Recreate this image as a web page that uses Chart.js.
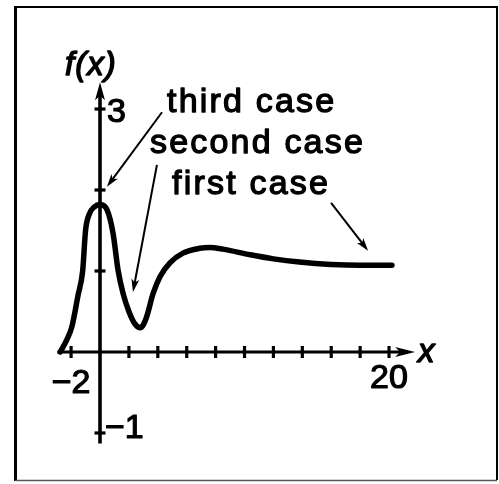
<!DOCTYPE html>
<html>
<head>
<meta charset="utf-8">
<script src="https://cdn.jsdelivr.net/npm/chart.js@4.4.1/dist/chart.umd.min.js"></script>
<style>
  html, body { margin: 0; padding: 0; background: #fff; }
  #wrap { position: relative; width: 499px; height: 484px; }
  canvas { display: block; }
</style>
</head>
<body>
<div id="wrap"><canvas id="c" width="499" height="484"></canvas></div>
<script>
// f(x) sample points
const curveX = [-2.75, -2.3, -1.95, -1.52, -1.2, -1.0, -0.75, -0.4, 0, 0.5, 0.9, 1.25, 1.6, 2.0, 2.4, 2.8, 3.2, 3.67, 4.15, 4.84, 5.74, 6.9, 7.6, 8.5, 10.4, 12, 13.8, 16, 18, 20.2];
const curveY = [0.0, 0.15, 0.31, 0.70, 1.0, 1.5, 1.70, 1.79, 1.82, 1.75, 1.47, 1.01, 0.72, 0.50, 0.35, 0.30, 0.42, 0.72, 0.93, 1.10, 1.22, 1.28, 1.29, 1.27, 1.20, 1.15, 1.11, 1.08, 1.07, 1.07];

// axis tick positions and the labelled ticks
const xTicks = [-2, 0, 2, 4, 6, 8, 10, 12, 14, 16, 18, 20];
const yTicks = [-1, 1, 2, 3];
const xLabelValues = [-2, 20];
const xLabelText = ['\u22122', '20'];
const yLabelValues = [3, -1];
const yLabelText = ['3', '\u22121'];

// case annotations: label, arrow start, arrow tip (data units)
const caseNames = ['third case', 'second case', 'first case'];
const caseArrowFrom = [[4.29, 2.96], [3.94, 2.31], [15.99, 1.84]];
const caseArrowTo = [[0.48, 2.04], [2.28, 0.74], [18.55, 1.25]];

// axis extents
const X_MIN = -6.92, X_MAX = 27.61;
const Y_MIN = -1.63, Y_MAX = 4.346;
const AXIS_X_FROM = -2.95, AXIS_X_TO = 21.8;
const AXIS_Y_FROM = -1.13, AXIS_Y_TO = 3.33;

const TEXT_FONT = '34px "Liberation Sans", Arial, sans-serif';
const ITALIC_FONT = 'italic 33px "Liberation Sans", Arial, sans-serif';

function arrowHead(ctx, tx, ty, fx, fy, len, half) {
  const a = Math.atan2(ty - fy, tx - fx);
  const c = Math.cos(a), s = Math.sin(a);
  const bx = tx - c * len, by = ty - s * len;
  ctx.beginPath();
  ctx.moveTo(tx, ty);
  ctx.lineTo(bx - s * half, by + c * half);
  ctx.lineTo(bx + c * len * 0.25, by + s * len * 0.25);
  ctx.lineTo(bx + s * half, by - c * half);
  ctx.closePath();
  ctx.fill();
}

// heavy print-style text: fill plus a thin outline
function heavyText(ctx, str, x, y, weight) {
  ctx.lineWidth = weight;
  ctx.lineJoin = 'round';
  ctx.strokeText(str, x, y);
  ctx.fillText(str, x, y);
}

const sketchAxes = {
  id: 'sketchAxes',
  beforeDatasetsDraw(chart) {
    const ctx = chart.ctx;
    const xs = chart.scales.x, ys = chart.scales.y;
    const px = v => xs.getPixelForValue(v);
    const py = v => ys.getPixelForValue(v);
    ctx.save();
    ctx.fillStyle = '#000';
    ctx.strokeStyle = '#000';

    // frame
    ctx.lineWidth = 3;
    ctx.beginPath(); ctx.moveTo(15.5, 6); ctx.lineTo(15.5, 481); ctx.stroke();
    ctx.lineWidth = 2;
    ctx.beginPath(); ctx.moveTo(14, 7); ctx.lineTo(497, 7); ctx.lineTo(497, 480); ctx.stroke();
    ctx.lineWidth = 1.5; ctx.strokeStyle = '#555';
    ctx.beginPath(); ctx.moveTo(15, 480.5); ctx.lineTo(497, 480.5); ctx.stroke();
    ctx.strokeStyle = '#000';

    const x0 = px(0), y0 = py(0);

    // x axis
    ctx.lineWidth = 3.2;
    ctx.beginPath(); ctx.moveTo(px(AXIS_X_FROM), y0); ctx.lineTo(px(AXIS_X_TO) - 8, y0); ctx.stroke();
    arrowHead(ctx, px(AXIS_X_TO), y0, x0, y0, 20, 5);
    // y axis
    ctx.lineWidth = 3.6;
    ctx.beginPath(); ctx.moveTo(x0, py(AXIS_Y_FROM)); ctx.lineTo(x0, py(AXIS_Y_TO) + 8); ctx.stroke();
    arrowHead(ctx, x0, py(AXIS_Y_TO), x0, y0, 18, 5);

    // tick marks
    ctx.lineWidth = 3.2;
    xTicks.forEach(v => {
      if (v === 0) return;
      const x = px(v);
      ctx.beginPath(); ctx.moveTo(x, y0 - 6); ctx.lineTo(x, y0 + 6); ctx.stroke();
    });
    yTicks.forEach(v => {
      const y = py(v);
      ctx.beginPath(); ctx.moveTo(x0 - 5.5, y); ctx.lineTo(x0 + 5.5, y); ctx.stroke();
    });

    // tick labels
    ctx.font = TEXT_FONT;
    ctx.textBaseline = 'alphabetic';
    ctx.textAlign = 'center';
    xLabelValues.forEach((v, i) => {
      heavyText(ctx, xLabelText[i], px(v), y0 + (v < 0 ? 41 : 36), 1.2);
    });
    ctx.textAlign = 'left';
    yLabelValues.forEach((v, i) => {
      heavyText(ctx, yLabelText[i], x0 + (v > 0 ? 7 : 5), py(v) + (v > 0 ? 13 : 5), 1.2);
    });

    // axis names
    ctx.font = ITALIC_FONT;
    heavyText(ctx, 'x', px(AXIS_X_TO) + 3, y0 + 10, 1.4);
    ctx.letterSpacing = '1px';
    heavyText(ctx, 'f(x)', x0 - 35, py(AXIS_Y_TO) - 7, 1.4);
    ctx.restore();
  },
  afterDatasetsDraw(chart) {
    const ctx = chart.ctx;
    const xs = chart.scales.x, ys = chart.scales.y;
    const px = v => xs.getPixelForValue(v);
    const py = v => ys.getPixelForValue(v);
    ctx.save();
    ctx.fillStyle = '#000';
    ctx.strokeStyle = '#000';
    ctx.lineWidth = 2;
    caseArrowFrom.forEach((from, i) => {
      const fx = px(from[0]), fy = py(from[1]);
      const tx = px(caseArrowTo[i][0]), ty = py(caseArrowTo[i][1]);
      const a = Math.atan2(ty - fy, tx - fx);
      ctx.lineWidth = 2;
      ctx.beginPath(); ctx.moveTo(fx, fy);
      ctx.lineTo(tx - Math.cos(a) * 8, ty - Math.sin(a) * 8); ctx.stroke();
      arrowHead(ctx, tx, ty, fx, fy, 13, 4);
    });
    // case labels, each placed beside its arrow start
    ctx.font = TEXT_FONT;
    ctx.letterSpacing = '2.2px';
    ctx.textAlign = 'left';
    const labelOffset = [[5, 0], [-7, -12], [-159, -9]];
    caseNames.forEach((name, i) => {
      const fx = px(caseArrowFrom[i][0]), fy = py(caseArrowFrom[i][1]);
      heavyText(ctx, name, fx + labelOffset[i][0], fy + labelOffset[i][1], 1.3);
    });
    ctx.restore();
  }
};

const points = curveX.map((x, i) => ({ x, y: curveY[i] }));

new Chart(document.getElementById('c'), {
  type: 'line',
  data: {
    datasets: [{
      data: points,
      borderColor: '#000',
      borderWidth: 5.5,
      pointRadius: 0,
      fill: false,
      cubicInterpolationMode: 'monotone',
      borderCapStyle: 'round',
      borderJoinStyle: 'round'
    }]
  },
  options: {
    responsive: false,
    animation: false,
    events: [],
    layout: { padding: 0 },
    plugins: { legend: { display: false }, tooltip: { enabled: false } },
    scales: {
      x: { type: 'linear', min: X_MIN, max: X_MAX, display: false },
      y: { type: 'linear', min: Y_MIN, max: Y_MAX, display: false }
    }
  },
  plugins: [sketchAxes]
});
</script>
</body>
</html>
